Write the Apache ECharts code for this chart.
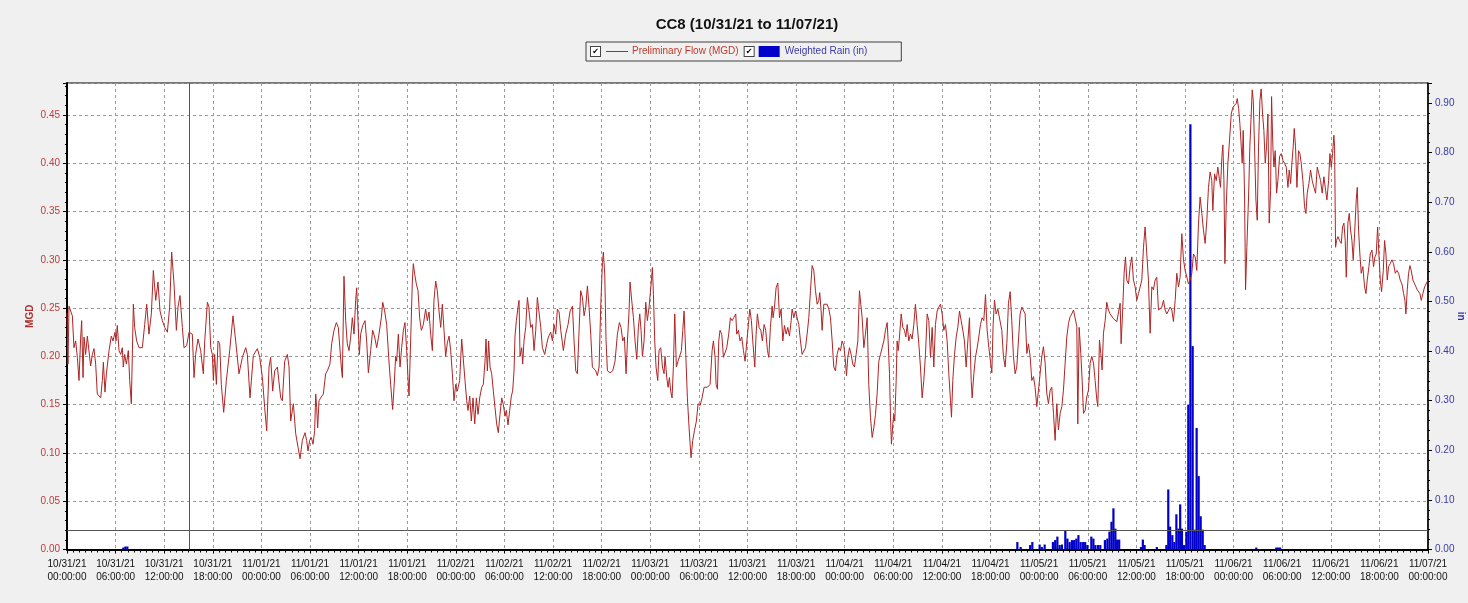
<!DOCTYPE html>
<html>
<head>
<meta charset="utf-8">
<script src="https://cdn.jsdelivr.net/npm/echarts@6/dist/echarts.min.js"></script>
<style>
html,body{margin:0;padding:0;background:#f0f0f0;overflow:hidden;width:1468px;height:603px;}
#main{width:1468px;height:603px;}
</style>
</head>
<body>
<div id="main"></div>
<script>
// ---- tick labels ----
const dayLabels = ['10/31/21','11/01/21','11/02/21','11/03/21','11/04/21','11/05/21','11/06/21','11/07/21'];
const timeLabels = ['00:00:00','06:00:00','12:00:00','18:00:00'];

// ---- Preliminary Flow (MGD): [hours since 10/31/21 00:00, MGD] ----
const flowDay1 = [[0,0.245],[0.12,0.192],[0.25,0.252],[0.66,0.242],[0.86,0.209],[1.07,0.216],[1.28,0.199],[1.48,0.175],[1.69,0.22],[1.81,0.237],[1.98,0.178],[2.1,0.22],[2.3,0.202],[2.51,0.221],[2.72,0.22],[2.92,0.19],[3.13,0.202],[3.33,0.208],[3.54,0.192],[3.74,0.161],[3.95,0.161],[4.16,0.157],[4.36,0.175],[4.49,0.194],[4.69,0.163],[4.86,0.182],[5.19,0.206],[5.47,0.221],[5.68,0.216],[5.93,0.225],[6.05,0.216],[6.21,0.232],[6.42,0.206],[6.63,0.202],[6.83,0.209],[6.95,0.189],[7.12,0.202],[7.33,0.192],[7.57,0.206],[7.74,0.175],[7.94,0.151],[8.19,0.254],[8.35,0.23],[8.6,0.216],[8.89,0.209],[9.3,0.209],[9.59,0.233],[9.84,0.254],[10.12,0.223],[10.41,0.244],[10.66,0.289],[10.95,0.258],[11.23,0.277],[11.48,0.247],[11.77,0.237],[12.06,0.23],[12.39,0.225],[12.67,0.251],[12.92,0.308],[13.21,0.275],[13.5,0.227],[13.7,0.251],[13.95,0.263],[14.24,0.23],[14.44,0.209],[14.77,0.211],[15.06,0.225],[15.47,0.223],[15.68,0.178],[15.88,0.202],[16.17,0.218],[16.5,0.206],[16.83,0.182],[17.0,0.216],[17.33,0.256],[17.53,0.251],[17.74,0.209],[17.94,0.202],[18.07,0.175],[18.23,0.202],[18.44,0.171],[18.64,0.216],[18.85,0.213],[19.05,0.171],[19.34,0.142],[19.67,0.175],[20.08,0.206],[20.49,0.242],[20.82,0.216],[21.23,0.182],[21.65,0.199],[22.06,0.209],[22.26,0.202],[22.59,0.157],[22.76,0.175],[23.0,0.201],[23.5,0.208],[23.79,0.199]];
const flowDay2 = [[24.12,0.178],[24.4,0.147],[24.65,0.123],[24.94,0.189],[25.14,0.199],[25.39,0.164],[25.64,0.185],[25.97,0.189],[26.17,0.19],[26.38,0.157],[26.58,0.154],[26.87,0.195],[27.2,0.202],[27.41,0.189],[27.61,0.133],[27.94,0.151],[28.23,0.12],[28.52,0.106],[28.77,0.094],[29.05,0.113],[29.38,0.121],[29.58,0.113],[29.75,0.102],[29.95,0.113],[30.16,0.116],[30.37,0.109],[30.57,0.123],[30.7,0.161],[30.82,0.147],[30.94,0.126],[31.11,0.154],[31.31,0.157],[31.64,0.161],[31.93,0.182],[32.14,0.185],[32.46,0.192],[32.67,0.213],[32.96,0.227],[33.25,0.235],[33.49,0.23],[33.66,0.232],[33.86,0.189],[33.99,0.178],[34.19,0.283],[34.4,0.237],[34.6,0.213],[34.81,0.206],[35.02,0.22],[35.22,0.24],[35.43,0.223],[35.63,0.258],[35.76,0.271],[35.92,0.237],[36.09,0.202],[36.25,0.223],[36.5,0.232],[36.79,0.237],[36.99,0.216],[37.2,0.183],[37.48,0.206],[37.73,0.227],[37.98,0.22],[38.23,0.209],[38.51,0.223],[38.8,0.24],[38.97,0.256],[39.21,0.247],[39.46,0.233],[39.71,0.199],[39.95,0.171],[40.2,0.145],[40.37,0.168],[40.57,0.2],[40.69,0.195],[40.9,0.223],[41.11,0.189],[41.31,0.209],[41.52,0.227],[41.72,0.235],[41.93,0.206],[42.09,0.178],[42.22,0.159],[42.42,0.216],[42.63,0.278],[42.75,0.296],[42.92,0.285],[43.12,0.275],[43.33,0.268],[43.53,0.24],[43.74,0.227],[43.99,0.233],[44.27,0.249],[44.48,0.237],[44.69,0.246],[44.89,0.223],[45.1,0.206],[45.3,0.258],[45.51,0.278],[45.71,0.268],[45.92,0.247],[46.13,0.23],[46.33,0.254],[46.54,0.227],[46.74,0.2],[46.95,0.214],[47.16,0.221],[47.36,0.206],[47.57,0.182],[47.77,0.154]];
const flowDay3 = [[47.98,0.171],[48.18,0.164],[48.47,0.175],[48.72,0.218],[48.92,0.216],[49.13,0.175],[49.34,0.154],[49.5,0.144],[49.71,0.159],[49.91,0.133],[50.12,0.157],[50.33,0.13],[50.53,0.157],[50.74,0.14],[50.94,0.157],[51.19,0.168],[51.39,0.171],[51.6,0.195],[51.72,0.218],[51.89,0.185],[52.05,0.216],[52.22,0.189],[52.42,0.182],[52.63,0.164],[52.83,0.147],[53.04,0.13],[53.24,0.121],[53.45,0.14],[53.66,0.157],[53.86,0.15],[54.07,0.138],[54.23,0.144],[54.44,0.129],[54.64,0.144],[54.85,0.159],[55.01,0.164],[55.18,0.185],[55.3,0.221],[55.47,0.237],[55.67,0.251],[55.8,0.258],[55.92,0.2],[56.13,0.209],[56.25,0.192],[56.41,0.216],[56.62,0.23],[56.83,0.261],[57.03,0.247],[57.24,0.23],[57.44,0.233],[57.65,0.206],[57.86,0.227],[58.06,0.261],[58.27,0.259],[58.48,0.23],[58.68,0.209],[58.97,0.202],[59.22,0.213],[59.42,0.22],[59.71,0.225],[59.92,0.216],[60.12,0.233],[60.33,0.223],[60.53,0.249],[60.74,0.246],[60.95,0.227],[61.27,0.206],[61.56,0.223],[61.85,0.233],[62.1,0.247],[62.39,0.252],[62.59,0.216],[62.8,0.185],[63.0,0.182],[63.21,0.227],[63.41,0.268],[63.62,0.261],[63.83,0.242],[64.03,0.251],[64.24,0.273],[64.44,0.251],[64.65,0.223],[64.85,0.189],[65.06,0.187],[65.27,0.185],[65.47,0.18],[65.68,0.189],[65.88,0.251],[66.09,0.297],[66.21,0.308],[66.38,0.285],[66.54,0.216],[66.71,0.185],[67.04,0.183],[67.36,0.185],[67.65,0.195],[67.94,0.223],[68.19,0.235],[68.39,0.23],[68.6,0.216],[68.8,0.22],[69.01,0.182],[69.18,0.216],[69.38,0.247],[69.5,0.277],[69.71,0.258],[69.92,0.24],[70.12,0.216],[70.33,0.197],[70.53,0.23],[70.7,0.244],[70.86,0.227],[71.03,0.2],[71.23,0.216],[71.44,0.256],[71.64,0.237],[71.85,0.251]];
const flowDay4 = [[72.06,0.271],[72.26,0.292],[72.39,0.264],[72.55,0.216],[72.71,0.189],[72.92,0.175],[73.08,0.206],[73.29,0.209],[73.5,0.189],[73.7,0.182],[73.82,0.2],[74.03,0.178],[74.2,0.168],[74.36,0.178],[74.52,0.164],[74.69,0.157],[74.85,0.189],[75.02,0.244],[75.22,0.189],[75.43,0.195],[75.64,0.197],[75.84,0.206],[76.01,0.227],[76.17,0.247],[76.38,0.202],[76.58,0.157],[76.79,0.126],[77.03,0.095],[77.24,0.113],[77.45,0.123],[77.69,0.133],[77.9,0.151],[78.15,0.149],[78.39,0.157],[78.64,0.168],[79.05,0.168],[79.38,0.171],[79.63,0.206],[79.79,0.216],[80.0,0.199],[80.12,0.171],[80.29,0.166],[80.45,0.216],[80.61,0.227],[80.82,0.223],[81.03,0.199],[81.23,0.197],[81.44,0.209],[81.68,0.223],[81.89,0.24],[82.1,0.237],[82.3,0.24],[82.55,0.244],[82.67,0.223],[82.88,0.227],[83.08,0.216],[83.29,0.22],[83.5,0.206],[83.7,0.195],[83.91,0.195],[84.11,0.233],[84.28,0.249],[84.48,0.237],[84.65,0.216],[84.9,0.189],[85.06,0.223],[85.22,0.244],[85.43,0.23],[85.64,0.227],[85.84,0.216],[86.05,0.233],[86.25,0.227],[86.46,0.206],[86.63,0.199],[86.83,0.23],[87.04,0.252],[87.16,0.24],[87.33,0.251],[87.53,0.271],[87.74,0.276],[87.95,0.24],[88.15,0.249],[88.36,0.216],[88.56,0.232],[88.77,0.223],[88.97,0.23],[89.18,0.221],[89.39,0.237],[89.51,0.249],[89.72,0.24],[89.92,0.247],[90.13,0.249],[90.33,0.233],[90.54,0.216],[90.74,0.202],[90.95,0.202],[91.16,0.209],[91.36,0.223],[91.57,0.24],[91.77,0.268],[91.98,0.294],[92.18,0.289],[92.39,0.268],[92.6,0.254],[92.8,0.258],[92.92,0.266],[93.09,0.247],[93.21,0.227],[93.42,0.254],[93.62,0.256],[93.83,0.254],[94.04,0.249],[94.24,0.24],[94.45,0.216],[94.65,0.189],[94.86,0.185],[95.06,0.202],[95.27,0.209],[95.48,0.206],[95.68,0.216],[95.89,0.211]];
const flowDay5 = [[96.09,0.195],[96.22,0.18],[96.38,0.199],[96.59,0.209],[96.79,0.202],[97.0,0.192],[97.2,0.189],[97.41,0.202],[97.62,0.216],[97.82,0.268],[97.95,0.268],[98.15,0.24],[98.36,0.209],[98.56,0.223],[98.77,0.24],[98.97,0.171],[99.18,0.137],[99.39,0.116],[99.59,0.126],[99.8,0.14],[100.0,0.161],[100.21,0.195],[100.41,0.202],[100.62,0.209],[100.83,0.216],[101.03,0.227],[101.24,0.235],[101.36,0.216],[101.53,0.182],[101.65,0.137],[101.77,0.109],[101.94,0.13],[102.06,0.14],[102.18,0.133],[102.35,0.175],[102.47,0.216],[102.6,0.206],[102.76,0.22],[102.97,0.244],[103.17,0.23],[103.38,0.227],[103.54,0.22],[103.71,0.233],[103.91,0.216],[104.12,0.223],[104.32,0.218],[104.53,0.233],[104.73,0.254],[104.94,0.233],[105.15,0.213],[105.35,0.189],[105.56,0.157],[105.76,0.175],[105.97,0.202],[106.18,0.244],[106.38,0.237],[106.59,0.199],[106.79,0.23],[107.0,0.189],[107.2,0.233],[107.41,0.247],[107.62,0.251],[107.82,0.254],[108.03,0.244],[108.23,0.227],[108.44,0.233],[108.64,0.216],[108.85,0.182],[109.06,0.154],[109.18,0.137],[109.34,0.175],[109.55,0.202],[109.76,0.22],[109.96,0.23],[110.17,0.247],[110.37,0.237],[110.58,0.227],[110.78,0.216],[110.99,0.189],[111.2,0.216],[111.4,0.24],[111.61,0.175],[111.73,0.157],[111.94,0.182],[112.14,0.199],[112.35,0.209],[112.55,0.22],[112.76,0.233],[112.96,0.24],[113.17,0.237],[113.38,0.264],[113.58,0.227],[113.79,0.209],[113.99,0.195],[114.16,0.183],[114.32,0.233],[114.49,0.258],[114.69,0.244],[114.9,0.249],[115.1,0.247],[115.39,0.227],[115.59,0.2],[115.8,0.189],[116.01,0.213],[116.21,0.255],[116.42,0.267],[116.62,0.237],[116.83,0.2],[117.03,0.182],[117.24,0.189],[117.45,0.217],[117.65,0.244],[117.86,0.251],[118.06,0.253],[118.27,0.244],[118.48,0.203],[118.68,0.213],[118.89,0.2],[119.09,0.175],[119.3,0.179],[119.5,0.168],[119.71,0.148],[119.92,0.165]];
const flowDay6 = [[120.12,0.182],[120.33,0.2],[120.53,0.21],[120.74,0.193],[120.94,0.162],[121.15,0.151],[121.36,0.165],[121.56,0.168],[121.77,0.141],[121.97,0.113],[122.18,0.151],[122.38,0.124],[122.59,0.141],[122.8,0.148],[123.0,0.165],[123.21,0.193],[123.41,0.22],[123.62,0.234],[123.82,0.241],[124.03,0.244],[124.24,0.248],[124.44,0.246],[124.65,0.231],[124.77,0.13],[124.94,0.23],[125.14,0.203],[125.31,0.175],[125.47,0.141],[125.68,0.144],[125.88,0.158],[126.09,0.165],[126.29,0.193],[126.5,0.2],[126.71,0.193],[126.91,0.175],[127.12,0.155],[127.24,0.148],[127.45,0.217],[127.61,0.203],[127.77,0.186],[127.94,0.224],[128.15,0.237],[128.35,0.256],[128.56,0.248],[128.76,0.244],[128.97,0.243],[129.17,0.239],[129.38,0.237],[129.59,0.236],[129.79,0.234],[130.0,0.255],[130.12,0.213],[130.29,0.244],[130.49,0.286],[130.66,0.303],[130.82,0.279],[131.03,0.275],[131.23,0.293],[131.44,0.303],[131.64,0.279],[131.85,0.272],[132.05,0.258],[132.26,0.265],[132.47,0.272],[132.67,0.279],[132.88,0.313],[133.08,0.334],[133.29,0.306],[133.49,0.279],[133.7,0.224],[133.91,0.272],[134.11,0.269],[134.32,0.279],[134.52,0.282],[134.73,0.248],[134.94,0.248],[135.14,0.251],[135.35,0.258],[135.55,0.248],[135.76,0.244],[135.96,0.243],[136.17,0.251],[136.38,0.248],[136.58,0.236],[136.79,0.258],[136.99,0.286],[137.2,0.272],[137.4,0.282],[137.61,0.327],[137.82,0.3],[138.02,0.289],[138.23,0.282],[138.43,0.275],[138.64,0.279],[138.84,0.286],[139.05,0.306],[139.26,0.303],[139.46,0.289],[139.67,0.338],[139.87,0.365],[140.08,0.348],[140.28,0.331],[140.49,0.317],[140.7,0.341],[140.9,0.375],[141.11,0.391],[141.31,0.382],[141.44,0.351],[141.65,0.389],[141.86,0.382],[142.06,0.396],[142.27,0.382],[142.39,0.375],[142.56,0.407],[142.68,0.419],[142.81,0.382],[142.93,0.296],[143.09,0.355],[143.3,0.4],[143.5,0.424],[143.71,0.451],[143.92,0.458]];
const flowDay7 = [[144.12,0.46],[144.33,0.462],[144.45,0.467],[144.62,0.457],[144.78,0.441],[144.95,0.417],[145.07,0.4],[145.19,0.434],[145.36,0.365],[145.48,0.269],[145.64,0.313],[145.85,0.365],[146.01,0.417],[146.18,0.451],[146.3,0.476],[146.43,0.465],[146.59,0.417],[146.76,0.362],[146.92,0.341],[147.08,0.417],[147.25,0.465],[147.41,0.477],[147.58,0.451],[147.74,0.434],[147.91,0.4],[148.07,0.417],[148.24,0.451],[148.4,0.338],[148.57,0.372],[148.69,0.469],[148.85,0.417],[148.98,0.396],[149.14,0.413],[149.31,0.369],[149.47,0.382],[149.68,0.407],[149.88,0.41],[150.09,0.403],[150.29,0.4],[150.5,0.396],[150.71,0.375],[150.87,0.393],[151.04,0.379],[151.2,0.4],[151.36,0.417],[151.49,0.436],[151.65,0.417],[151.82,0.375],[152.02,0.413],[152.19,0.41],[152.35,0.4],[152.56,0.382],[152.76,0.355],[152.93,0.348],[153.09,0.369],[153.3,0.379],[153.5,0.393],[153.71,0.382],[153.92,0.375],[154.12,0.369],[154.33,0.396],[154.53,0.389],[154.74,0.382],[154.94,0.369],[155.15,0.386],[155.36,0.372],[155.52,0.362],[155.73,0.382],[155.89,0.41],[156.06,0.396],[156.22,0.41],[156.38,0.429],[156.47,0.417],[156.59,0.313],[156.71,0.32],[156.88,0.324],[157.08,0.32],[157.29,0.317],[157.45,0.334],[157.62,0.338],[157.78,0.32],[157.91,0.282],[158.11,0.338],[158.28,0.348],[158.44,0.331],[158.61,0.32],[158.77,0.3],[158.94,0.327],[159.14,0.362],[159.27,0.375],[159.43,0.331],[159.59,0.306],[159.76,0.286],[159.96,0.293],[160.17,0.272],[160.34,0.265],[160.5,0.279],[160.71,0.293],[160.87,0.306],[161.08,0.31],[161.28,0.293],[161.45,0.303],[161.61,0.306],[161.78,0.334],[161.94,0.306],[162.11,0.279],[162.27,0.267],[162.48,0.289],[162.64,0.32],[162.81,0.306],[162.97,0.279],[163.13,0.293],[163.34,0.296],[163.55,0.3],[163.75,0.296],[163.96,0.286],[164.16,0.289],[164.37,0.286],[164.57,0.279],[164.78,0.275],[164.99,0.265],[165.15,0.258],[165.27,0.244],[165.44,0.269],[165.6,0.286],[165.77,0.294],[165.93,0.289],[166.14,0.279],[166.3,0.279],[166.51,0.272],[166.67,0.269],[166.84,0.269],[167.0,0.265],[167.17,0.258],[167.37,0.265],[167.58,0.272],[167.78,0.274],[168,0.279]];

// ---- Weighted Rain (in): [hours since 10/31/21 00:00, inches] ----
const rainEarly = [[6.95,0.004],[7.2,0.006],[7.45,0.006]];
const rainNov5 = [[117.31,0.015],[117.72,0.005],[118.89,0.009],[119.16,0.015],[120.06,0.010],[120.33,0.005],[120.68,0.010],[121.7,0.015],[121.98,0.019],[122.25,0.026],[122.53,0.009],[122.81,0.010],[123.23,0.039],[123.49,0.022],[123.77,0.015],[124.05,0.019],[124.32,0.019],[124.59,0.022],[124.85,0.029],[125.12,0.015],[125.41,0.015],[125.68,0.015],[125.95,0.009],[126.44,0.026],[126.7,0.022],[126.94,0.009],[127.26,0.009],[127.55,0.009],[128.12,0.019],[128.42,0.022],[128.68,0.036],[128.93,0.056],[129.17,0.083],[129.41,0.042],[129.63,0.020],[129.88,0.020],[132.57,0.005],[132.8,0.020],[133.02,0.009],[134.53,0.005],[135.7,0.009],[135.94,0.121],[136.17,0.046],[136.44,0.029],[136.69,0.015],[136.94,0.071],[137.19,0.042],[137.41,0.091],[137.63,0.042],[137.88,0.009],[138.17,0.036],[138.41,0.292],[138.67,0.857],[138.95,0.41],[139.2,0.04],[139.44,0.245],[139.69,0.148],[139.94,0.067],[140.19,0.04],[140.43,0.009]];
const rainNov6 = [[146.8,0.004],[149.26,0.004],[149.5,0.004],[149.75,0.004]];

// crosshair cursor
const cursorHour = 15.1;
const cursorFlow = 0.0225;

const flow = [].concat(flowDay1, flowDay2, flowDay3, flowDay4, flowDay5, flowDay6, flowDay7);
const rain = [].concat(rainEarly, rainNov5, rainNov6);

const FLOW_NAME = 'Preliminary Flow (MGD)';
const RAIN_NAME = 'Weighted Rain (in)';
const FONT = '"Liberation Sans", Arial, sans-serif';

const chart = echarts.init(document.getElementById('main'), null, {renderer: 'canvas', width: 1468, height: 603});
chart.setOption({
  animation: false,
  backgroundColor: '#f0f0f0',
  textStyle: {fontFamily: FONT},
  title: {
    text: 'CC8 (10/31/21 to 11/07/21)',
    left: 747, top: 17, padding: 0, textAlign: 'center',
    textStyle: {fontSize: 15, fontWeight: 'bold', color: '#111', fontFamily: FONT}
  },
  legend: {
    left: 586, top: 42,
    icon: 'none', itemWidth: 0, itemHeight: 11, itemGap: 1,
    padding: [3, 34, 3, 0],
    borderColor: '#404040', borderWidth: 1, backgroundColor: '#f0f0f0',
    selectedMode: false,
    data: [FLOW_NAME, RAIN_NAME],
    formatter: function (name) {
      if (name === FLOW_NAME) return '{cb|✔}{g6| }{ln| }{g4| }{t1|' + name + '}';
      return '{cb|✔}{g5| }{bx| }{g5| }{t2|' + name + '}';
    },
    textStyle: {
      fontSize: 10, lineHeight: 13, fontFamily: FONT,
      rich: {
        cb: {width: 9, height: 9, lineHeight: 9, align: 'center', borderColor: '#444', borderWidth: 1, backgroundColor: '#fff', color: '#000', fontSize: 8, fontFamily: 'DejaVu Sans'},
        g6: {width: 6, fontSize: 10},
        g5: {width: 5, fontSize: 10},
        g4: {width: 4, fontSize: 10},
        ln: {width: 22, height: 1, lineHeight: 1, backgroundColor: '#b42828', fontSize: 1},
        bx: {width: 21, height: 11, lineHeight: 11, backgroundColor: '#0000c8', fontSize: 10},
        t1: {color: '#c0392b', fontSize: 10, fontFamily: FONT},
        t2: {color: '#3a3aa8', fontSize: 10, fontFamily: FONT}
      }
    }
  },
  grid: {
    left: 67, right: 40, top: 83, bottom: 53.5,
    outerBoundsMode: 'none', containLabel: false,
    show: true, backgroundColor: '#ffffff', borderColor: '#000', borderWidth: 1
  },
  xAxis: {
    type: 'value', min: 0, max: 168, interval: 6,
    axisLine: {lineStyle: {color: '#000', width: 2}},
    axisTick: {length: 4, lineStyle: {color: '#000'}},
    minorTick: {show: true, splitNumber: 8, length: 3, lineStyle: {color: '#000'}},
    splitLine: {show: true, lineStyle: {color: '#9a9a9a', type: [3, 3], width: 1}},
    axisLabel: {
      margin: 8, fontSize: 10, lineHeight: 13, color: '#111', fontFamily: FONT,
      formatter: function (v) {
        const d = Math.floor(v / 24 + 1e-9);
        const t = Math.round((v - d * 24) / 6);
        return dayLabels[d] + '\n' + timeLabels[t];
      }
    }
  },
  yAxis: [{
    type: 'value', min: 0, max: 0.4831, interval: 0.05, position: 'left',
    name: 'MGD', nameLocation: 'middle', nameGap: 32, nameRotate: 90, nameMoveOverlap: false,
    nameTextStyle: {color: '#b03030', fontWeight: 'bold', fontSize: 10, fontFamily: FONT},
    axisLine: {show: true, lineStyle: {color: '#000', width: 2}},
    axisTick: {show: true, length: 4, lineStyle: {color: '#000'}},
    minorTick: {show: true, splitNumber: 5, length: 2, lineStyle: {color: '#000'}},
    splitLine: {show: true, lineStyle: {color: '#9a9a9a', type: [3, 3], width: 1}},
    axisLabel: {showMaxLabel: false, margin: 7, fontSize: 10, color: '#c03a3a', fontFamily: FONT,
      formatter: function (v) { return v.toFixed(2); }}
  }, {
    type: 'value', min: 0, max: 0.9403, interval: 0.1, position: 'right',
    name: 'in', nameLocation: 'middle', nameGap: 28, nameRotate: -90, nameMoveOverlap: false,
    nameTextStyle: {color: '#2a2ab0', fontWeight: 'bold', fontSize: 10, fontFamily: FONT},
    axisLine: {show: true, lineStyle: {color: '#000', width: 1.5}},
    axisTick: {show: true, length: 4, lineStyle: {color: '#000'}},
    minorTick: {show: true, splitNumber: 5, length: 2, lineStyle: {color: '#000'}},
    splitLine: {show: false},
    axisLabel: {showMaxLabel: false, margin: 7, fontSize: 10, color: '#3a3aa8', fontFamily: FONT,
      formatter: function (v) { return v.toFixed(2); }}
  }],
  series: [{
    name: RAIN_NAME, type: 'bar', yAxisIndex: 1, data: rain,
    barWidth: 2.2, itemStyle: {color: '#0000c8'}, silent: true
  }, {
    name: FLOW_NAME, type: 'line', yAxisIndex: 0, data: flow,
    showSymbol: false, symbol: 'none',
    lineStyle: {color: '#b02424', width: 1}, itemStyle: {color: '#b42828'},
    silent: true, z: 3,
    markLine: {
      silent: true, symbol: 'none', label: {show: false},
      lineStyle: {color: '#555', type: 'solid', width: 1},
      data: [{xAxis: cursorHour}, {yAxis: cursorFlow}]
    }
  }]
});
</script>
</body>
</html>
